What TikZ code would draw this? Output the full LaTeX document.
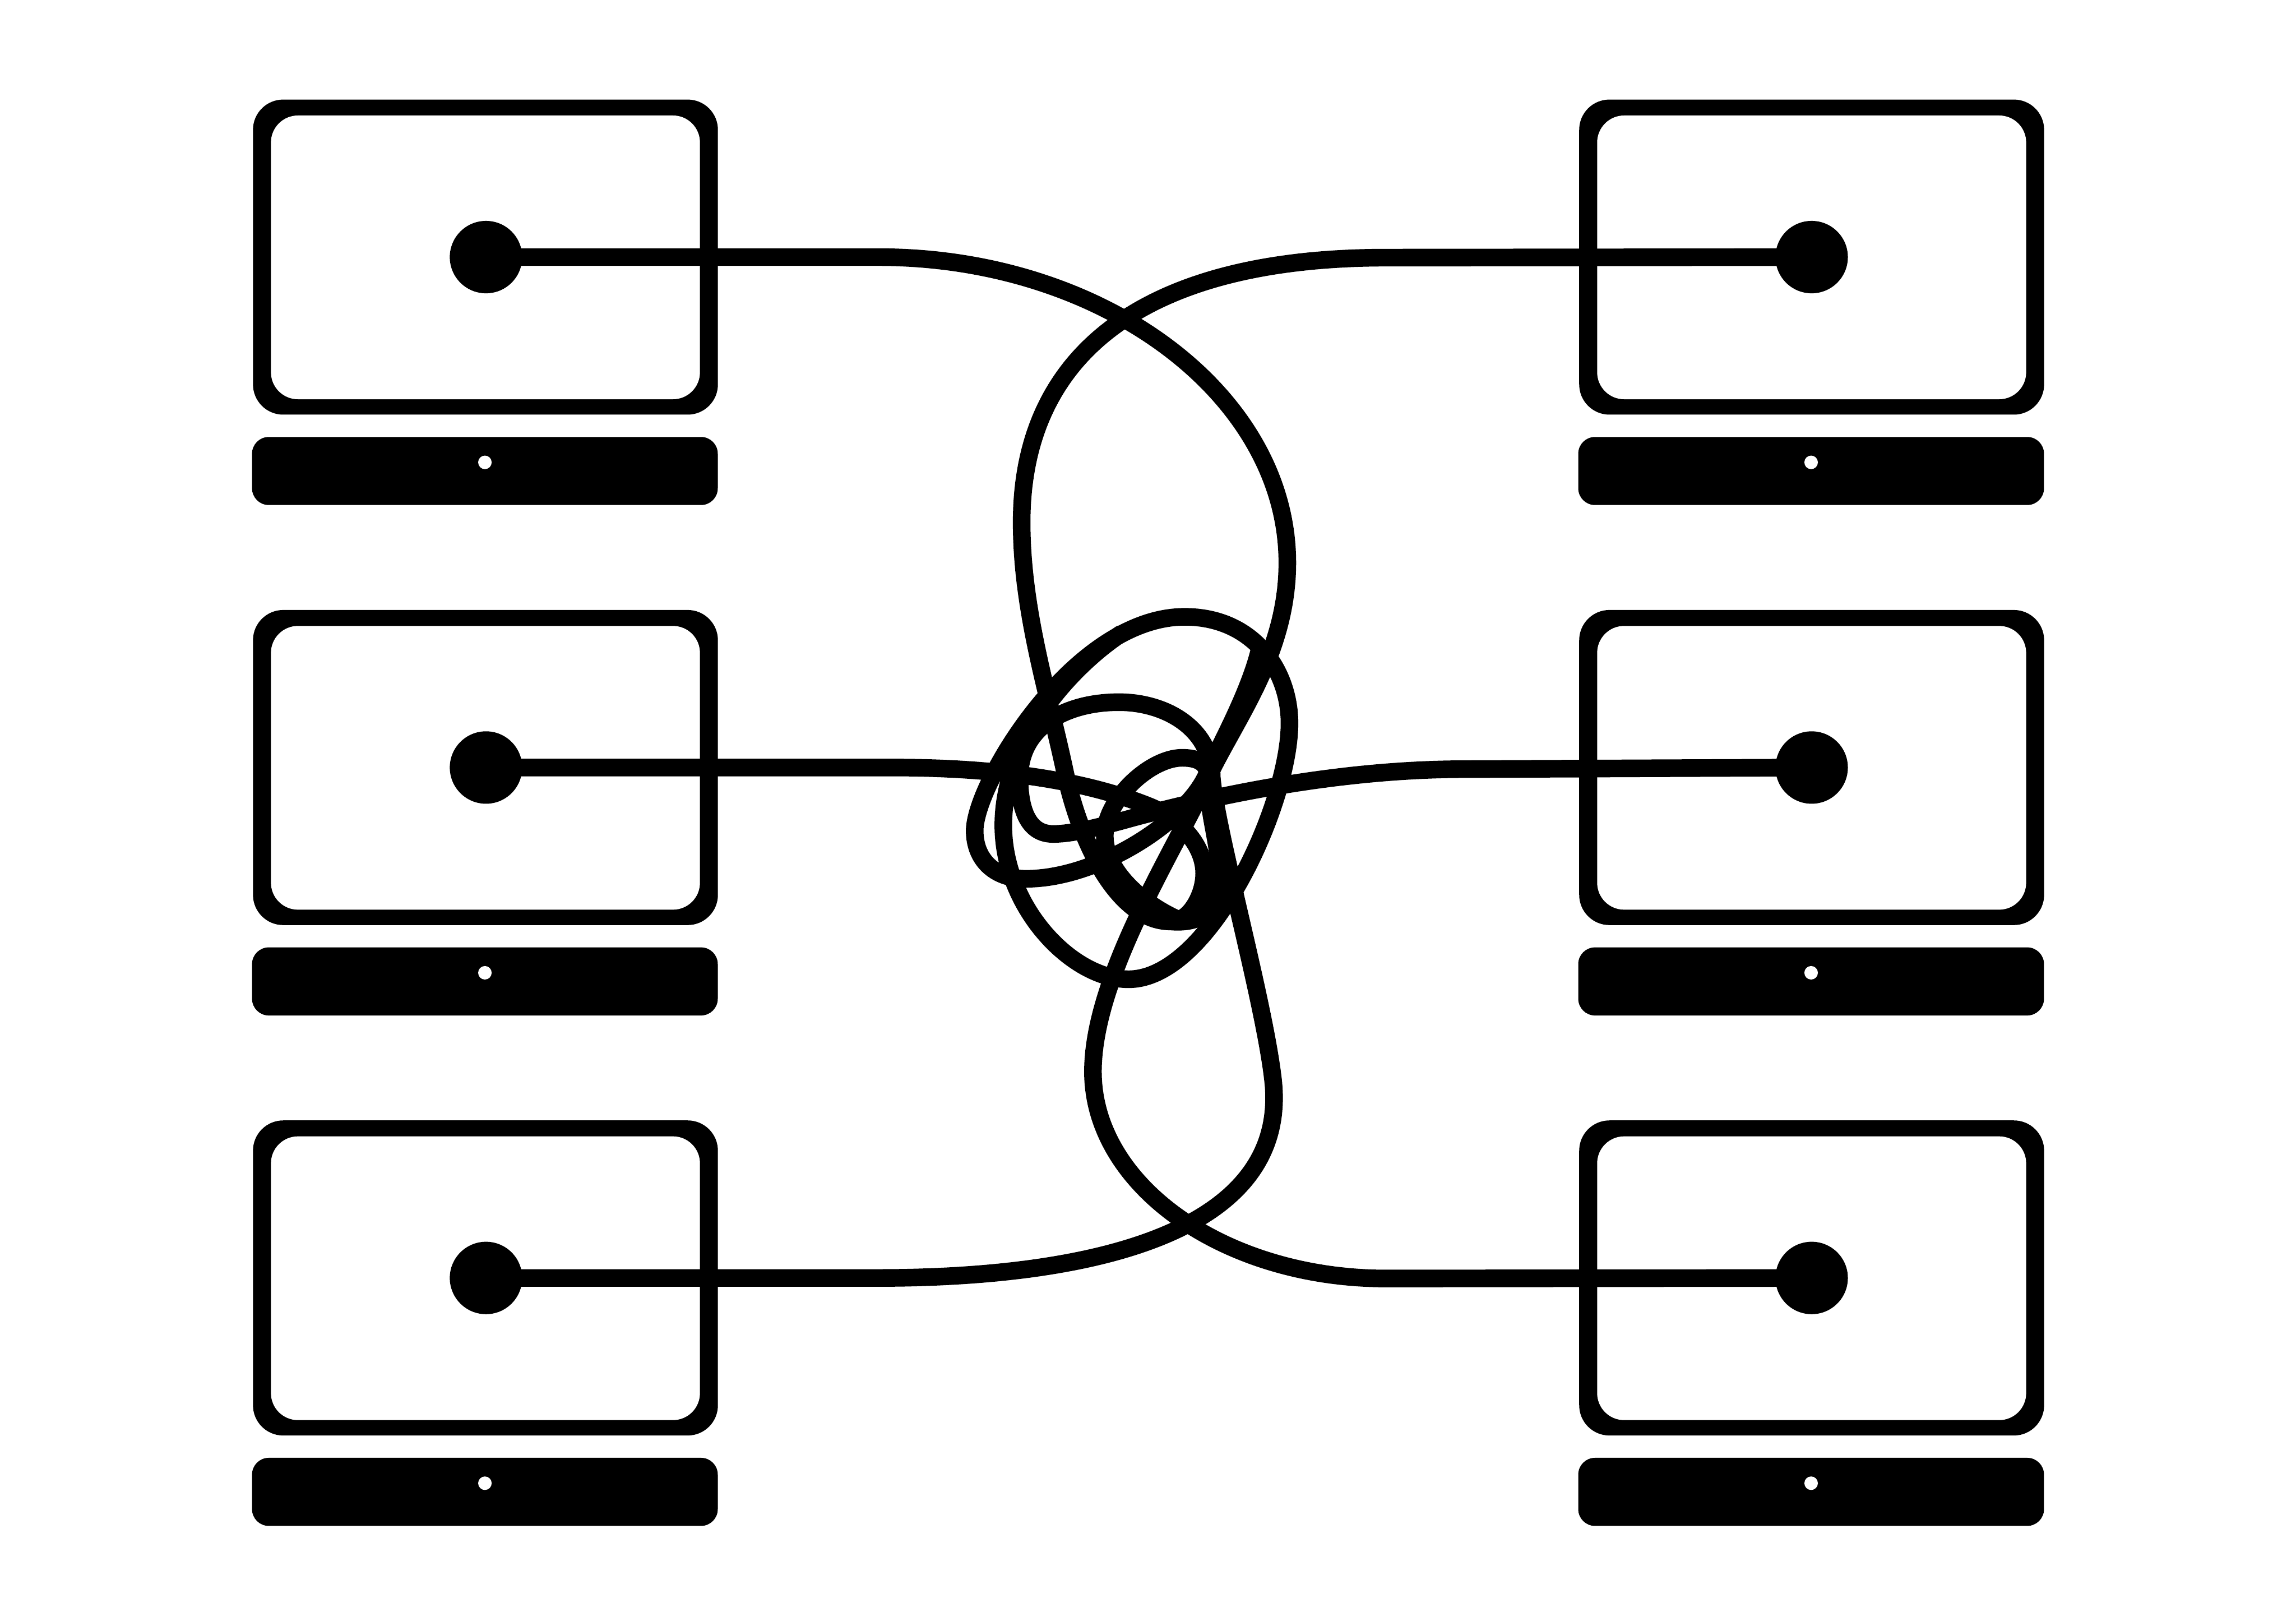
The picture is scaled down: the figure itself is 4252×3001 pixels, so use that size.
\documentclass[tikz,border=0pt]{standalone}
\tikzset{
  outerbox/.style={rectangle,fill=black,draw=none,rounded corners=0.56cm,minimum width=8.605cm,minimum height=5.83cm,inner sep=0pt},
  innerbox/.style={rectangle,fill=white,draw=none,rounded corners=0.50cm,minimum width=7.94cm,minimum height=5.25cm,inner sep=0pt},
  barbox/.style={rectangle,fill=black,draw=none,rounded corners=0.31cm,minimum width=8.62cm,minimum height=1.26cm,inner sep=0pt},
  pindot/.style={circle,fill=white,draw=none,minimum size=0.25cm,inner sep=0pt},
  port/.style={circle,fill=black,draw=none,minimum size=1.34cm,inner sep=0pt},
  wire/.style={draw=black,line width=9.27pt,line cap=round,line join=round}
}
\begin{document}
\begin{tikzpicture}[x=0.01cm,y=-0.01cm]
\useasboundingbox (0,0) rectangle (4252,3001);
\fill[white] (0,0) rectangle (4252,3001);
\foreach \n/\x/\r/\p in {tl/899/0/900,tr/3355/0/3355,ml/899/945/900,mr/3355/945/3355,bl/899/1890/900,br/3355/1890/3355}{
  \node[outerbox] (o\n) at (\x,476+\r) {};
  \node[innerbox] (i\n) at (\x,476.5+\r) {};
  \node[barbox] (b\n) at (\x-1,872+\r) {};
  \node[pindot] (d\n) at (\x-1,856+\r) {};
  \node[port] (\n) at (\p,476+\r) {};
}
\coordinate (endtr) at (2181,1702);
\coordinate (endml) at (2183,1703);
\coordinate (loopa) at (2332,1205);
\coordinate (loopb) at (2075,1174);
% top left to bottom right
\draw[wire] (tl.center) -- (1627,476)
  .. controls (2043,476) and (2384,731) .. (2384,1042)
  .. controls (2384,1200) and (2300,1315) .. (2246,1421)
  .. controls (2190,1552) and (2024,1800) .. (2024,1984)
  .. controls (2024,2195) and (2268,2367) .. (2567,2367)
  -- (br.center);
% top right
\draw[wire] (tr.center) -- (2567,477)
  .. controls (2128,477) and (1892,649) .. (1892,967)
  .. controls (1892,1130) and (1940,1278) .. (1972,1428)
  .. controls (2000,1560) and (2070,1706) .. (2168,1706)
  .. controls (2240,1712) and (2264,1670) .. (2258,1600)
  .. controls (2252,1540) and (2237,1500) .. (2237,1438)
  .. controls (2237,1410) and (2215,1403) .. (2189,1403)
  .. controls (2130,1403) and (2046,1480) .. (2046,1548)
  .. controls (2046,1610) and (2110,1670) .. (endtr);
% middle left
\draw[wire] (ml.center) -- (1654,1421)
  .. controls (1850,1421) and (2010,1445) .. (2129,1493)
  .. controls (2185,1516) and (2230,1565) .. (2230,1617)
  .. controls (2230,1655) and (2207,1695) .. (endml);
% middle right to bottom left
\draw[wire] (mr.center) -- (2712,1424)
  .. controls (2500,1424) and (2280,1465) .. (2098,1514)
  .. controls (2040,1530) and (1988,1544) .. (1950,1544)
  .. controls (1905,1544) and (1888,1500) .. (1888,1440)
  .. controls (1888,1345) and (1975,1300) .. (2072,1300)
  .. controls (2160,1300) and (2244,1350) .. (2244,1438)
  .. controls (2252,1540) and (2343,1860) .. (2358,2004)
  .. controls (2386,2290) and (2000,2366) .. (1627,2366)
  -- (bl.center);
% free loop
\draw[wire] (loopa)
  .. controls (2315,1275) and (2268,1365) .. (2239,1423)
  .. controls (2212,1510) and (2040,1627) .. (1900,1627)
  .. controls (1840,1627) and (1805,1590) .. (1805,1538)
  .. controls (1805,1450) and (1990,1142) .. (2194,1142)
  .. controls (2320,1142) and (2388,1240) .. (2388,1339)
  .. controls (2388,1490) and (2240,1813) .. (2090,1813)
  .. controls (1985,1813) and (1858,1680) .. (1858,1528)
  .. controls (1858,1370) and (1985,1234) .. (loopb);
\end{tikzpicture}
\end{document}
